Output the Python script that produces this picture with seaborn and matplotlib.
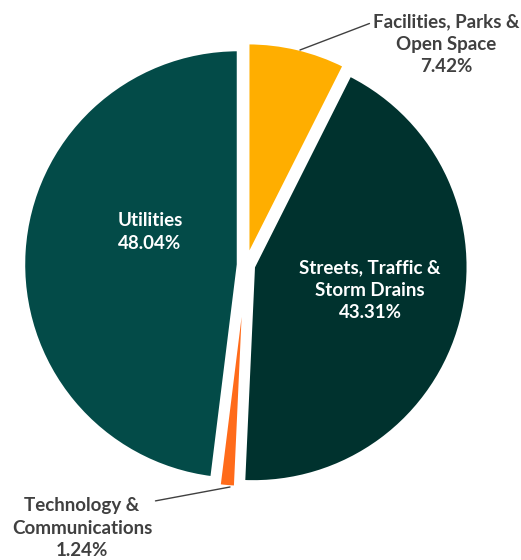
import matplotlib
matplotlib.use("Agg")
import matplotlib.pyplot as plt
import seaborn as sns

categories = ["Facilities, Parks &\nOpen Space", "Streets, Traffic &\nStorm Drains",
              "Technology &\nCommunications", "Utilities"]
values = [7.42, 43.31, 1.24, 48.04]
colors = ["#FFAE00", "#00322E", "#FF6B1A", "#034B48"]

sns.set_theme(style="white")
plt.rcParams["font.family"] = ["Lato", "DejaVu Sans"]

R = 215.0   # pixels per unit radius
CX, CY = 246.0, 265.0


def px(x, y):
    return ((x - CX) / R, (CY - y) / R)


fig = plt.figure(figsize=(5.21, 5.60), dpi=100)
ax = fig.add_axes([0, 0, 1, 1])
wedges, _ = ax.pie(values, colors=colors, startangle=90, counterclock=False,
                   explode=[0.035] * len(values),
                   wedgeprops=dict(edgecolor="white", linewidth=2.5))
ax.set_aspect("equal")
ax.set_xlim(-CX / R, (521 - CX) / R)
ax.set_ylim(-(560 - CY) / R, CY / R)
ax.axis("off")

labels = [f"{c}\n{v:.2f}%" for c, v in zip(categories, values)]
fs = 13.5
ax.text(*px(370, 290), labels[1], color="white", ha="center", va="center",
        fontsize=fs, fontweight="bold", linespacing=1.4)
ax.text(*px(150, 232), labels[3], color="white", ha="center", va="center",
        fontsize=fs, fontweight="bold", linespacing=1.4)
ax.annotate(labels[0], xy=px(300, 50), xytext=px(446, 44), color="#404040",
            ha="center", va="center", fontsize=fs, fontweight="bold", linespacing=1.4,
            arrowprops=dict(arrowstyle="-", color="#404040", lw=1,
                            relpos=(0.0, 0.85), shrinkA=0, shrinkB=0))
ax.annotate(labels[2], xy=px(230, 487), xytext=px(82, 528), color="#404040",
            ha="center", va="center", fontsize=fs, fontweight="bold", linespacing=1.4,
            arrowprops=dict(arrowstyle="-", color="#404040", lw=1,
                            relpos=(0.7, 0.8), shrinkA=0, shrinkB=0))

fig.savefig("out.png", dpi=100, facecolor="white")
